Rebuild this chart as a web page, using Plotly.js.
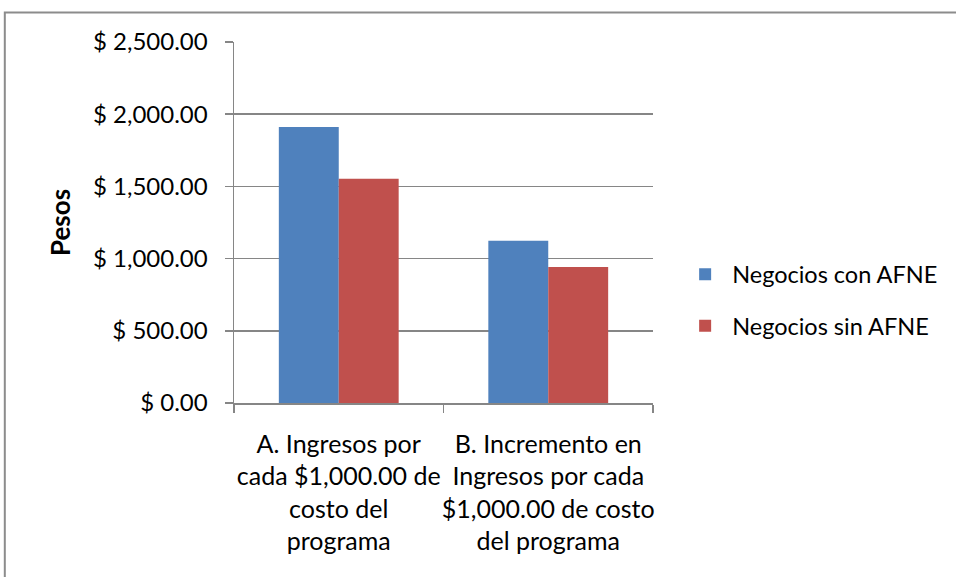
<!DOCTYPE html>
<html>
<head>
<meta charset="utf-8">
<script src="https://cdn.plot.ly/plotly-3.0.1.min.js"></script>
<style>html,body{margin:0;padding:0;background:#fff;}#chart{width:956px;height:577px;}</style>
</head>
<body>
<div id="chart"></div>
<script>
const categories = [
  "A. Ingresos por<br>cada $1,000.00 de<br>costo del<br>programa",
  "B. Incremento en<br>Ingresos por cada<br>$1,000.00 de costo<br>del programa"
];
const seriesNames = ["Negocios con AFNE", "Negocios sin AFNE"];
const conAFNE = [1911, 1124];
const sinAFNE = [1553, 942];
const yTickVals = [0, 500, 1000, 1500, 2000, 2500];
const yTickText = ["$ 0.00", "$ 500.00", "$ 1,000.00", "$ 1,500.00", "$ 2,000.00", "$ 2,500.00"];

const FONT = "Lato, 'Open Sans', sans-serif";
const traces = [
  {type: "bar", name: seriesNames[0], x: categories, y: conAFNE, legendgroup: "g1",
   marker: {color: "#4F81BD", line: {width: 0}}},
  {type: "bar", name: seriesNames[1], x: categories, y: sinAFNE, legendgroup: "g2",
   marker: {color: "#C0504D", line: {width: 0}}}
];

const layout = {
  width: 956, height: 577,
  margin: {l: 234, r: 303, t: 42, b: 174, pad: 0, autoexpand: false},
  paper_bgcolor: "#ffffff", plot_bgcolor: "#ffffff",
  font: {family: FONT, size: 23, color: "#000000"},
  barmode: "group", bargap: 0.428, bargroupgap: 0,
  showlegend: true,
  legend: {x: 1.06, y: 0.284, xanchor: "left", yanchor: "middle", tracegroupgap: 18, itemwidth: 44,
           traceorder: "grouped", font: {family: FONT, size: 23.5, color: "#000"}, bgcolor: "rgba(0,0,0,0)"},
  xaxis: {
    type: "category", tickson: "boundaries", ticks: "outside", ticklen: 8, tickcolor: "#868686", tickwidth: 1.5,
    showline: true, linecolor: "#868686", linewidth: 1.5, showgrid: false, tickangle: 0,
    tickfont: {family: FONT, size: 25, color: "#000"}, ticklabelstandoff: 18, automargin: false
  },
  yaxis: {
    range: [0, 2500], tickvals: yTickVals, ticktext: yTickText,
    ticks: "outside", ticklen: 8, tickcolor: "#868686", tickwidth: 1.5,
    showline: true, linecolor: "#868686", linewidth: 1.5,
    showgrid: true, gridcolor: "#868686", gridwidth: 1.5, zeroline: false,
    tickfont: {family: FONT, size: 24, color: "#000"}, ticklabelstandoff: 12, automargin: false,
    title: {text: "<b>Pesos</b>", font: {family: FONT, size: 26, color: "#000"}, standoff: 15}
  },
  shapes: [{type: "rect", xref: "paper", yref: "paper", x0: -0.547, x1: 2, y0: -0.6, y1: 1.082,
            line: {color: "#8c8c8c", width: 2}, fillcolor: "rgba(0,0,0,0)", layer: "below"}]
};

Plotly.newPlot("chart", traces, layout, {displayModeBar: false, staticPlot: true});
</script>
</body>
</html>
